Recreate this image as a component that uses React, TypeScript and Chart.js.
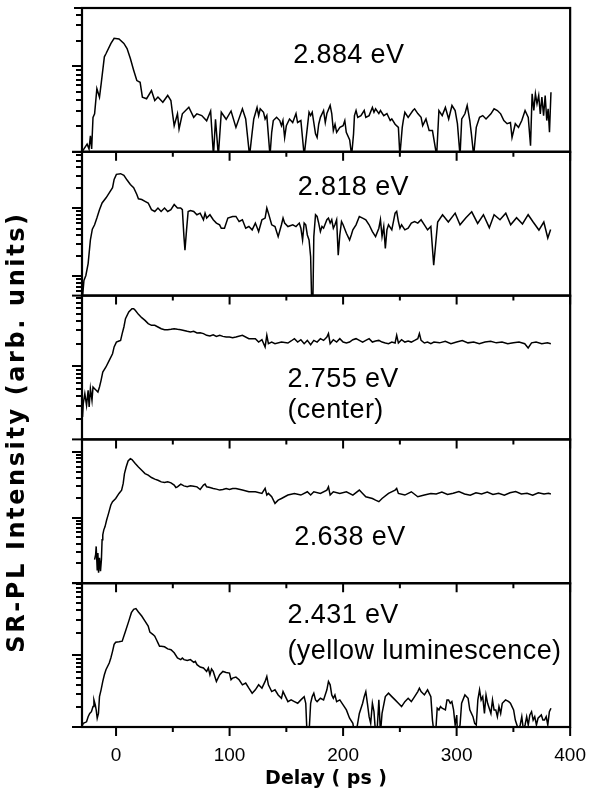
import { useEffect, useRef } from "react";
import { Chart, registerables } from "chart.js";

Chart.register(...registerables);

// ---------------- data (delay in ps, intensity in arb. units) ----------------
const panelLabels: string[][] = [
  ["2.884 eV"],
  ["2.818 eV"],
  ["2.755 eV", "(center)"],
  ["2.638 eV"],
  ["2.431 eV", "(yellow luminescence)"],
];
const panelMin = [1, 0.52, 0.107, 0.1, 0.109];
const panelMax = [48, 68, 8.7, 15.6, 9.3];
const delayTicks = [0, 100, 200, 300, 400];
const delayMin = -30;
const delayMax = 400;
const xTitle = "Delay ( ps )";
const yTitle = "SR-PL Intensity (arb. units)";

const trace2884: [number, number][] = [
  [-30, 1.0], [-25.5, 1.23], [-23.8, 1.08], [-22.6, 1.54], [-21.5, 1.08], [-20.3, 2.53], [-18.9, 2.78],
  [-16.9, 5.47], [-14.6, 4.36], [-13.1, 6.26], [-10.3, 12.9], [-8.8, 14.1], [-4.5, 18.5], [-1.7, 21.2],
  [2.6, 20.8], [6.9, 18.5], [9.7, 16.1], [12.6, 12.3], [15.5, 9.0], [18.3, 6.8], [21.2, 6.5], [23.2, 4.36],
  [26.9, 4.17], [31.2, 5.2], [34.1, 3.98], [36.9, 4.36], [41.2, 3.8], [45.5, 4.56], [48.3, 3.98], [49.8, 2.78],
  [51.2, 2.02], [54.1, 2.78], [55.5, 1.85], [58.4, 2.78], [64.1, 3.32], [68.4, 2.53], [71.2, 2.78],
  [75.5, 2.65], [79.8, 2.3], [83.3, 3.0], [85.8, 0.9], [87.6, 2.4], [90.1, 0.9], [92.7, 2.9], [97.0, 2.4],
  [101.3, 3.0], [105.6, 1.93], [111.3, 3.18], [114.2, 2.42], [117.6, 0.9], [119.9, 1.69], [121.3, 2.42],
  [124.2, 3.3], [125.6, 2.65], [127, 3.18], [129.9, 2.9], [131.3, 2.42], [132.8, 2.65], [135.6, 0.9],
  [137.1, 1.69], [138.5, 2.32], [141.4, 2.53], [144.2, 2.32], [145.7, 2.02], [147, 2.32], [148.5, 1.47],
  [150, 2.02], [152.8, 2.42], [155.6, 2.2], [158.5, 2.8], [159.9, 2.2], [162.8, 2.32], [165.7, 0.9],
  [168.5, 1.93], [170, 2.9], [171.4, 2.65], [172.8, 2.9], [175.7, 1.62], [177.1, 1.47], [178.5, 2.1],
  [180, 2.53], [182.8, 3.04], [184.3, 2.2], [185.7, 2.8], [188.6, 3.48], [190, 2.8], [191.4, 1.77],
  [192.9, 2.1], [194.3, 1.69], [197.2, 1.93], [200, 2.02], [201.5, 2.32], [202.8, 1.69], [205.8, 1.38],
  [207.5, 0.9], [209.2, 1.62], [210, 2.65], [211.4, 3.04], [212.9, 2.53], [215.7, 2.65], [218.6, 3.04],
  [220, 2.53], [222.9, 2.65], [225.8, 3.3], [227.2, 2.9], [228.6, 3.18], [231.5, 2.8], [232.9, 3.04],
  [235.8, 2.65], [238.6, 2.8], [241.5, 2.32], [242.9, 2.42], [245.8, 2.1], [248.7, 1.93], [250, 0.9],
  [252.1, 1.93], [253, 2.32], [254.4, 2.9], [257.3, 2.53], [261.5, 3.04], [263, 3.18], [265.8, 2.8],
  [268.7, 2.53], [270.1, 2.02], [273, 2.42], [275.8, 1.77], [278.7, 1.77], [282.4, 0.9], [284.4, 3.04],
  [287.3, 2.65], [290.1, 3.3], [293, 2.42], [295.9, 3.48], [298.7, 3.04], [300.7, 2.13], [303, 0.9],
  [304.5, 2.42], [307.3, 2.78], [309.3, 3.48], [311.6, 2.32], [313, 1.62], [315, 0.9], [317.3, 1.93],
  [320.2, 2.53], [323, 2.65], [325.9, 2.42], [330.2, 2.78], [333, 3.18], [335.9, 3.04], [338.8, 2.78],
  [341.6, 2.32], [344.5, 2.13], [347.4, 2.2], [348.8, 1.47], [351.7, 2.13], [354.5, 1.93], [357.4, 2.32],
  [360.3, 3.04], [363.1, 2.53], [365.1, 1.18], [366.5, 4.77], [368, 3.04], [369.4, 4.77], [370.8, 3.64],
  [372.3, 4.56], [373.7, 2.78], [375.1, 4.36], [376.6, 2.65], [378, 4.56], [379.4, 2.32], [380.6, 3.18],
  [381.8, 1.69], [383.1, 4.98],
];

const trace2818: [number, number][] = [
  [-29.5, 0.5], [-28.3, 0.87], [-26.6, 1.03], [-24.6, 1.54], [-22.6, 3.43], [-20.9, 4.94], [-18.9, 5.73],
  [-16.9, 7.2], [-14.6, 9.57], [-12.3, 12.0], [-8.8, 14.3], [-6.0, 16.9], [-3.1, 20.1], [-1.7, 26.7],
  [0.3, 31.7], [4.0, 32.4], [6.9, 30.6], [9.7, 26.1], [12.6, 22.5], [15.5, 20.1], [18.3, 16.0], [19.7, 13.8],
  [22.6, 13.5], [25.5, 12.7], [28.3, 12.0], [31.2, 9.57], [34.1, 9.0], [36.9, 10.1], [39.7, 9.0],
  [42.7, 10.1], [45.5, 9.0], [48.3, 9.57], [51.2, 11.4], [54.1, 10.1], [56.9, 10.1], [58.4, 9.57],
  [59.8, 3.84], [60.7, 2.43], [62.1, 4.82], [63.5, 9.0], [65.5, 9.3], [68.4, 9.0], [71.2, 8.06], [74.1, 8.5],
  [77, 6.8], [78.4, 8.5], [79.8, 7.2], [82.7, 8.06], [85.6, 6.8], [88.4, 6.07], [91.2, 5.73], [92.7, 5.1],
  [95.5, 5.1], [98.5, 7.2], [102.7, 7.6], [105.6, 7.6], [108.4, 6.4], [111.3, 6.8], [114.2, 5.1],
  [117, 5.4], [119.9, 4.82], [122.7, 6.07], [125.6, 4.56], [128.5, 6.8], [131.3, 7.2], [132.8, 10.1],
  [134.2, 8.5], [137.1, 5.73], [140, 5.4], [142.8, 3.84], [145.7, 5.73], [147.1, 7.2], [148.5, 6.07],
  [151.4, 5.4], [155.7, 5.73], [158.5, 5.4], [161.4, 6.07], [162.8, 5.1], [164.3, 3.43], [165.7, 6.07],
  [167.1, 5.73], [168.5, 4.06], [170, 3.43], [171.4, 1.94], [172.3, 0.45], [173.4, 0.45], [174.2, 3.84],
  [175.7, 8.06], [177.1, 7.6], [178.5, 6.07], [180, 4.56], [181.4, 5.4], [182.8, 5.1], [185.7, 6.8],
  [187.1, 7.2], [188.6, 6.07], [190, 6.8], [191.4, 5.1], [192.8, 5.73], [194.3, 6.8], [195.7, 2.05],
  [197.1, 4.06], [198.6, 6.4], [200, 5.73], [202.9, 4.3], [205.7, 3.43], [207.2, 4.06], [208.6, 4.82],
  [211.4, 5.73], [214.3, 7.6], [217.2, 7.2], [220, 6.8], [222.9, 5.73], [225.8, 4.56], [228.6, 3.84],
  [231.5, 5.1], [232.9, 6.8], [234.3, 3.84], [235.8, 5.4], [237.2, 2.58], [238.6, 4.82], [240, 5.73],
  [242.9, 4.82], [245.8, 8.5], [247.2, 9.0], [248.7, 6.4], [250.1, 5.1], [251.5, 5.73], [254.4, 4.82],
  [257.3, 5.1], [260.1, 6.07], [263, 6.4], [265.8, 6.07], [268.7, 6.8], [271.6, 5.73], [274.4, 4.82],
  [277.3, 5.4], [279.8, 1.46], [281.1, 2.5], [283.3, 6.3], [287.6, 8.06], [292.7, 6.3], [298.7, 8.5],
  [303, 5.73], [308.2, 7.3], [313.3, 8.9], [318.5, 6.0], [323.6, 8.06], [328.8, 5.2], [333, 8.06],
  [338.2, 6.8], [343.3, 8.5], [347.6, 5.73], [352.8, 7.3], [358, 5.9], [363, 8.06], [367.4, 6.3],
  [372.5, 4.8], [376.8, 6.3], [380.3, 3.67], [382.8, 4.9],
];

const trace2755: [number, number][] = [
  [-29.5, 0.212], [-28.9, 0.32], [-27.5, 0.434], [-26.0, 0.303], [-24.6, 0.48], [-23.7, 0.288],
  [-22.6, 0.505], [-21.2, 0.353], [-20.3, 0.532], [-18.9, 0.505], [-17.5, 0.48], [-16.0, 0.456],
  [-14.6, 0.532], [-13.2, 0.652], [-11.7, 0.84], [-8.9, 0.98], [-6.0, 1.2], [-3.1, 1.47], [-1.7, 1.81],
  [0.3, 2.1], [2.6, 2.17], [4.0, 2.21], [5.4, 2.72], [6.9, 3.33], [8.3, 4.3], [11.2, 5.27], [14.0, 5.83],
  [15.5, 5.83], [16.9, 5.54], [19.7, 4.9], [22.6, 4.43], [25.5, 4.08], [28.3, 3.69], [31.2, 3.5],
  [34.1, 3.5], [36.9, 3.33], [39.8, 3.16], [42.7, 3.07], [45.5, 3.07], [48.4, 3.1], [51.2, 3.16],
  [54.1, 3.1], [57.0, 3.07], [59.8, 3.0], [62.7, 2.92], [65.5, 2.86], [68.4, 2.92], [71.3, 2.77],
  [74.1, 2.8], [77.0, 2.72], [79.8, 2.58], [82.7, 2.53], [85.6, 2.63], [88.4, 2.5], [91.3, 2.58],
  [94.1, 2.5], [97.0, 2.45], [99.9, 2.45], [102.7, 2.4], [105.6, 2.45], [111.3, 2.58], [117, 2.33],
  [122.7, 2.33], [125.6, 2.1], [128.5, 2.26], [131.3, 1.81], [132.8, 2.58], [134.2, 2.0], [137.1, 2.1],
  [140, 2.0], [145.7, 2.1], [151.4, 2.04], [154.2, 2.17], [157.1, 2.33], [160, 2.1], [162.8, 2.26],
  [165.7, 2.0], [168.5, 2.21], [171.4, 1.94], [174.2, 2.21], [177.1, 2.1], [180, 2.33], [182.8, 2.21],
  [185.7, 2.45], [187.1, 2.72], [188.6, 2.0], [191.4, 2.26], [194.3, 2.1], [197.1, 2.33], [200, 2.1],
  [202.9, 2.04], [205.7, 2.1], [208.6, 2.26], [211.4, 2.33], [214.3, 2.21], [217.2, 2.1], [220, 2.21],
  [222.9, 2.33], [225.8, 2.1], [228.6, 2.17], [231.5, 2.21], [234.3, 2.1], [237.2, 2.04], [240, 2.0],
  [242.9, 2.1], [245.8, 2.04], [247.2, 2.58], [248.7, 2.04], [251.5, 2.26], [254.4, 2.1], [257.3, 2.17],
  [260.1, 2.1], [263, 2.21], [265.8, 2.33], [267.2, 2.72], [268.7, 2.21], [271.6, 2.04], [274.4, 2.1],
  [277.3, 2.0], [280, 2.1], [285, 2.05], [290, 2.15], [295, 2.0], [300, 2.1], [305, 2.2], [310, 2.05],
  [315, 2.1], [320, 2.0], [325, 2.1], [330, 2.15], [335, 2.05], [340, 2.1], [345, 2.0], [350, 2.05],
  [355, 2.1], [360, 2.0], [363, 1.75], [366, 2.05], [370, 2.1], [375, 2.0], [380, 2.05], [383, 2.0],
];

const trace2638: [number, number][] = [
  [-18.9, 0.229], [-18.0, 0.272], [-17.5, 0.364], [-16.6, 0.161], [-16.0, 0.288], [-15.4, 0.144],
  [-14.6, 0.243], [-13.7, 0.152], [-12.9, 0.229], [-12.3, 0.459], [-11.7, 0.547], [-10.8, 0.651],
  [-9.7, 0.73], [-8.3, 0.92], [-6.6, 1.16], [-4.6, 1.56], [-3.1, 1.75], [-0.3, 1.96], [2.6, 2.34],
  [4.9, 2.63], [6.3, 3.32], [7.4, 4.7], [8.9, 5.93], [10.6, 7.31], [12.6, 7.94], [14.0, 7.67], [16.9, 6.67],
  [19.7, 5.93], [22.6, 5.28], [25.5, 4.7], [28.3, 4.44], [31.2, 4.09], [34.1, 3.86], [36.9, 3.72],
  [39.8, 3.51], [42.7, 3.43], [45.5, 3.51], [48.4, 3.39], [51.2, 3.13], [52.7, 2.88], [54.1, 2.95],
  [57.0, 3.24], [59.8, 3.05], [62.7, 2.95], [65.5, 3.05], [68.4, 3.02], [71.3, 2.95], [74.1, 2.69],
  [77.0, 3.13], [78.4, 3.24], [79.8, 2.95], [82.7, 2.88], [85.6, 2.79], [88.4, 2.72], [91.3, 2.63],
  [94.1, 2.69], [97.0, 2.79], [99.9, 2.69], [102.7, 2.79], [105.6, 2.79], [111.3, 2.63], [117, 2.48],
  [122.7, 2.48], [128.5, 2.34], [131.3, 2.79], [132.8, 2.21], [134.2, 2.34], [137.1, 2.08], [140, 1.65],
  [142.8, 1.85], [145.7, 1.96], [151.4, 2.21], [157.1, 2.34], [162.8, 2.21], [168.5, 2.48], [171.4, 2.21],
  [174.2, 2.48], [180, 2.34], [185.7, 2.63], [187.1, 2.95], [188.6, 2.21], [191.4, 2.48], [197.1, 2.34],
  [202.9, 2.48], [208.6, 2.21], [214.3, 2.63], [217.2, 2.34], [220, 2.08], [225.8, 1.96], [228.6, 1.85],
  [231.5, 1.75], [234.3, 1.96], [240, 2.34], [245.8, 2.63], [247.2, 2.79], [248.7, 2.34], [254.4, 2.21],
  [260.1, 2.48], [265.8, 2.08], [271.6, 2.21], [277.3, 2.34], [282, 2.3], [287, 2.45], [292, 2.25],
  [297, 2.35], [302, 2.5], [307, 2.3], [312, 2.2], [317, 2.4], [322, 2.3], [327, 2.45], [332, 2.25],
  [337, 2.35], [342, 2.2], [347, 2.4], [352, 2.5], [357, 2.3], [362, 2.35], [367, 2.2], [372, 2.4],
  [377, 2.3], [381, 2.35], [383, 2.3],
];

const trace2431: [number, number][] = [
  [-30, 0.112], [-28.9, 0.122], [-26.0, 0.128], [-24.6, 0.15], [-23.2, 0.166], [-21.7, 0.175],
  [-20.3, 0.205], [-19.5, 0.252], [-18.3, 0.216], [-17.5, 0.185], [-16.6, 0.143], [-15.5, 0.166],
  [-14.6, 0.279], [-13.2, 0.344], [-11.7, 0.446], [-10.3, 0.548], [-8.9, 0.641], [-6.0, 0.789],
  [-4.6, 0.92], [-3.1, 1.13], [-1.7, 1.4], [-0.3, 1.5], [2.6, 1.52], [5.4, 1.55], [8.3, 2.11], [11.2, 2.88],
  [13.5, 3.74], [15.5, 4.15], [17.5, 4.24], [19.7, 3.82], [22.6, 3.37], [25.5, 2.88], [28.3, 2.47],
  [29.8, 2.05], [32.6, 1.9], [34.1, 1.81], [35.5, 1.63], [36.9, 1.47], [38.3, 1.32], [39.8, 1.32],
  [42.7, 1.3], [45.5, 1.22], [48.4, 1.19], [51.2, 1.08], [54.1, 0.92], [57.0, 0.875], [58.4, 0.92],
  [59.8, 0.875], [62.7, 0.85], [65.5, 0.875], [68.4, 0.805], [69.8, 0.83], [71.3, 0.748], [74.1, 0.697],
  [77.0, 0.676], [79.8, 0.608], [81.3, 0.676], [82.7, 0.548], [84.1, 0.655], [85.6, 0.608], [88.4, 0.446],
  [91.3, 0.548], [94.1, 0.608], [97.0, 0.589], [99.9, 0.578], [101.3, 0.47], [102.7, 0.495], [105.6, 0.51],
  [108.4, 0.47], [111.3, 0.402], [114.2, 0.424], [117, 0.362], [119.9, 0.31], [122.7, 0.344],
  [125.6, 0.402], [128.5, 0.362], [131.3, 0.446], [132.8, 0.52], [134.2, 0.402], [137.1, 0.326],
  [140, 0.344], [142.8, 0.294], [145.7, 0.265], [147.1, 0.326], [148.5, 0.294], [151.4, 0.239],
  [154.2, 0.252], [157.1, 0.239], [160, 0.227], [162.8, 0.252], [165.7, 0.279], [167.1, 0.227],
  [168.2, 0.09], [170, 0.09], [171.4, 0.227], [172.8, 0.279], [174.2, 0.31], [175.7, 0.252], [177.1, 0.239],
  [180, 0.265], [182.8, 0.252], [185.7, 0.344], [187.1, 0.446], [188.6, 0.402], [190, 0.294],
  [191.4, 0.265], [192.8, 0.294], [194.3, 0.239], [197.1, 0.252], [200, 0.216], [202.9, 0.185],
  [205.7, 0.143], [208.6, 0.122], [210, 0.09], [211.4, 0.09], [214.3, 0.166], [217.2, 0.227],
  [218.6, 0.279], [220, 0.326], [221.4, 0.227], [222.9, 0.15], [224.3, 0.122], [225.8, 0.227],
  [227.2, 0.175], [228.6, 0.09], [230, 0.1], [231.5, 0.252], [232.9, 0.09], [234.3, 0.166], [237.2, 0.279],
  [240, 0.31], [242.9, 0.279], [245.8, 0.252], [248.7, 0.227], [251.5, 0.205], [254.4, 0.239],
  [257.3, 0.265], [260.1, 0.239], [263, 0.279], [265.8, 0.326], [267.2, 0.362], [268.7, 0.326],
  [271.6, 0.294], [274.4, 0.344], [277.3, 0.279], [278.7, 0.135], [280.1, 0.09], [281.5, 0.09],
  [282.9, 0.195], [284.4, 0.185], [285.8, 0.205], [287.2, 0.195], [290.1, 0.185], [291.5, 0.252],
  [292.9, 0.252], [294.4, 0.227], [295.8, 0.239], [297.3, 0.185], [298.7, 0.116], [300.1, 0.158],
  [300.7, 0.09], [303, 0.116], [304.4, 0.227], [307.3, 0.294], [310.1, 0.265], [311.6, 0.185],
  [314.4, 0.15], [315.9, 0.122], [317.3, 0.116], [318.7, 0.252], [320.2, 0.344], [321.6, 0.252],
  [323, 0.279], [324.5, 0.166], [325.9, 0.294], [327.3, 0.227], [330.2, 0.166], [331.6, 0.252],
  [333, 0.185], [334.5, 0.185], [335.9, 0.15], [337.3, 0.205], [338.8, 0.166], [340.2, 0.227],
  [343.1, 0.252], [345.9, 0.239], [347.4, 0.227], [348.8, 0.205], [350.2, 0.185], [351.7, 0.135],
  [353.1, 0.116], [354.5, 0.1], [356, 0.116], [357.4, 0.15], [358.8, 0.1], [360.3, 0.116], [361.7, 0.15],
  [363.1, 0.116], [364.5, 0.158], [366, 0.175], [367.4, 0.135], [368.8, 0.15], [370.3, 0.116],
  [371.7, 0.143], [374.6, 0.158], [376, 0.135], [377.4, 0.135], [378.9, 0.15], [380.3, 0.116],
  [381.7, 0.175], [383.1, 0.195],
];

const traces = [trace2884, trace2818, trace2755, trace2638, trace2431];

// ---------------- layout / style ----------------
const panelIds = ["y0", "y1", "y2", "y3", "y4"];
const labelDelay = [156, 160, 151, 157, 151]; // left edge of label, in ps
const labelRows = [[0.385], [0.3], [0.636, 0.852], [0.734], [0.277, 0.527]]; // baseline, fraction of panel height
const LABEL_FONT = '27px "Liberation Sans", Arial, sans-serif';
const TITLE_FAMILY = '"DejaVu Sans", Verdana, sans-serif';

const panelPlugin = {
  id: "panelPlugin",
  beforeDatasetDraw(chart: any, args: any) {
    const ds = chart.data.datasets[args.index];
    const ys = chart.scales[ds.yAxisID];
    const { left, right } = chart.chartArea;
    const ctx = chart.ctx;
    ctx.save();
    ctx.beginPath();
    ctx.rect(left, ys.top, right - left, ys.bottom - ys.top);
    ctx.clip();
  },
  afterDatasetDraw(chart: any) {
    chart.ctx.restore();
  },
  afterDraw(chart: any) {
    const ctx = chart.ctx;
    const xs = chart.scales.x;
    const { left, right } = chart.chartArea;
    ctx.save();
    ctx.strokeStyle = "#000";
    ctx.fillStyle = "#000";
    ctx.lineCap = "butt";
    panelIds.forEach((id, i) => {
      const ys = chart.scales[id];
      // frame
      ctx.lineWidth = 2.2;
      ctx.strokeRect(left, ys.top, right - left, ys.bottom - ys.top);
      ctx.lineWidth = 2;
      ctx.beginPath();
      ctx.moveTo(left - 10, ys.bottom);
      ctx.lineTo(left, ys.bottom);
      if (i === 0) {
        ctx.moveTo(left - 8, ys.top);
        ctx.lineTo(left, ys.top);
      }
      ctx.stroke();
      // x tick marks (outward, below each panel)
      ctx.lineWidth = 2;
      ctx.beginPath();
      for (let k = 0; k < delayTicks.length; k++) {
        const major = delayTicks[k];
        const px = xs.getPixelForValue(major);
        ctx.moveTo(px, ys.bottom);
        ctx.lineTo(px, ys.bottom + 9);
        if (k < delayTicks.length - 1) {
          const mid = (major + delayTicks[k + 1]) / 2;
          const pm = xs.getPixelForValue(mid);
          ctx.moveTo(pm, ys.bottom);
          ctx.lineTo(pm, ys.bottom + 5);
        }
      }
      ctx.stroke();
      // log y tick marks (outward)
      const lo = Math.floor(Math.log10(ys.min));
      const hi = Math.ceil(Math.log10(ys.max));
      ctx.beginPath();
      for (let e = lo; e <= hi; e++) {
        for (let m = 1; m <= 9; m++) {
          const val = m * Math.pow(10, e);
          if (val < ys.min || val > ys.max) continue;
          const py = Math.round(ys.getPixelForValue(val));
          const len = m === 1 ? 10 : 6;
          ctx.moveTo(left - len, py);
          ctx.lineTo(left, py);
        }
      }
      ctx.stroke();
      // panel labels
      ctx.font = LABEL_FONT;
      (ctx as any).letterSpacing = "0.4px";
      ctx.textAlign = "left";
      ctx.textBaseline = "alphabetic";
      const lx = xs.getPixelForValue(labelDelay[i]);
      panelLabels[i].forEach((t, r) => {
        const ly = ys.top + labelRows[i][r] * (ys.bottom - ys.top);
        ctx.fillText(t, lx, ly);
      });
      (ctx as any).letterSpacing = "0px";
    });
    // y title
    ctx.save();
    ctx.translate(18, 432);
    ctx.rotate(-Math.PI / 2);
    ctx.font = `bold 24px ${TITLE_FAMILY}`;
    (ctx as any).letterSpacing = "2.6px";
    ctx.textAlign = "center";
    ctx.textBaseline = "middle";
    ctx.fillText(yTitle, 0, 0);
    ctx.restore();
    ctx.restore();
  },
};

export default function App() {
  const ref = useRef<HTMLCanvasElement>(null);
  useEffect(() => {
    const canvas = ref.current;
    if (!canvas) return;
    const scales: any = {
      x: {
        type: "linear",
        position: "bottom",
        min: delayMin,
        max: delayMax,
        grid: { display: false, drawTicks: false },
        border: { display: false },
        ticks: {
          stepSize: 100,
          includeBounds: false,
          color: "#000",
          padding: 17,
          maxRotation: 0,
          autoSkip: false,
          font: { family: '"Liberation Sans", Arial, sans-serif', size: 19 },
        },
        title: {
          display: true,
          text: xTitle,
          color: "#000",
          font: { family: TITLE_FAMILY, size: 19, weight: "bold" },
          padding: { top: 0, bottom: 18 },
        },
        afterFit: (s: any) => {
          s.height = 81;
        },
      },
    };
    for (let i = panelIds.length - 1; i >= 0; i--) {
      scales[panelIds[i]] = {
        type: "logarithmic",
        position: "left",
        stack: "panels",
        stackWeight: 1,
        min: panelMin[i],
        max: panelMax[i],
        ticks: { display: false },
        grid: { display: false, drawTicks: false },
        border: { display: false },
        afterFit: (s: any) => {
          s.width = 82;
        },
      };
    }
    const chart = new Chart(canvas, {
      type: "line",
      data: {
        datasets: traces.map((tr, i) => ({
          label: panelLabels[i][0],
          data: tr.map(([x, y]) => ({ x, y })),
          xAxisID: "x",
          yAxisID: panelIds[i],
          borderColor: "#000",
          borderWidth: 1.5,
          pointRadius: 0,
          tension: 0,
          fill: false,
        })),
      },
      options: {
        responsive: false,
        animation: false,
        events: [],
        layout: { padding: { left: 0, right: 20, top: 8, bottom: 0 } },
        plugins: { legend: { display: false }, tooltip: { enabled: false }, title: { display: false } },
        scales,
      },
      plugins: [panelPlugin],
    });
    return () => chart.destroy();
  }, []);
  return (
    <div style={{ position: "fixed", left: 0, top: 0, width: 603, height: 808, background: "#fff" }}>
      <canvas ref={ref} width={603} height={808} style={{ display: "block" }} />
    </div>
  );
}
